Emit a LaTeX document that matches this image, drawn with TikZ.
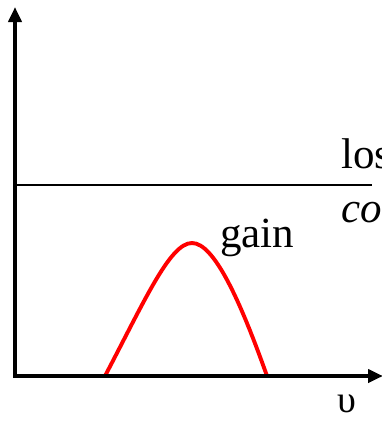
\documentclass[tikz,border=0pt]{standalone}
\usepackage{fontspec}
\setmainfont{Liberation Serif}
\usetikzlibrary{arrows.meta}
\begin{document}
\begin{tikzpicture}[x=1pt,y=-1pt,
  axis/.style={line width=3.8pt,-{Triangle[length=15pt,width=13pt]}},
  lbl/.style={inner sep=0pt,anchor=base west,font=\fontsize{43}{50}\selectfont},
  gaincurve/.style={red,line width=3.9pt}]
\useasboundingbox (0,0) rectangle (382,421);
\clip (0,0) rectangle (382,421);
\coordinate (O) at (15,376);
\coordinate (ytop) at (15,7);
\coordinate (xend) at (383,376);
\coordinate (lossL) at (17,185);
\coordinate (lossR) at (372,185);
\coordinate (g0) at (105,376);
\coordinate (gpeak) at (192,243);
\coordinate (g1) at (267,376);
\draw[line width=1.8pt] (lossL) -- (lossR);
\draw[gaincurve] (g0) .. controls (145,300) and (170,243) .. (gpeak)
  .. controls (214,243) and (240,300) .. (g1);
\draw[axis,line cap=rect] (O) -- (ytop);
\draw[axis] (O) -- (xend);
\node[lbl] (loss) at (341,168) {loss};
\node[lbl] (coef) at (341,222) {\itshape coefficient};
\node[lbl] (gain) at (220,247) {gain};
\node[inner sep=0pt,font=\fontsize{38}{42}\selectfont] (nu) at (347,404) {υ};
\end{tikzpicture}
\end{document}
